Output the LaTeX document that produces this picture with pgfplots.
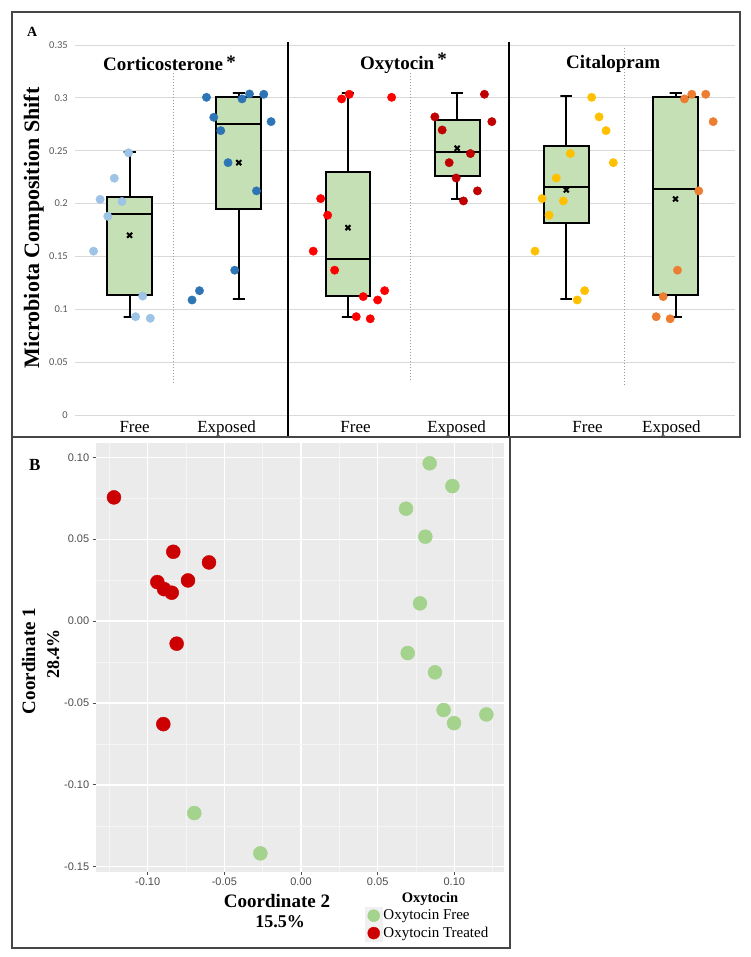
\documentclass[border=0pt]{standalone}
\usepackage{fontspec}
\setmainfont{Liberation Serif}
\newfontfamily\carlito{Carlito}
\newfontfamily\arialf{Liberation Sans}
\usepackage{pgfplots}
\pgfplotsset{compat=1.18}
\definecolor{boxgreen}{RGB}{197,224,180}
\definecolor{lblue}{RGB}{157,195,230}
\definecolor{dblue}{RGB}{46,117,182}
\definecolor{lred}{RGB}{255,0,0}
\definecolor{dred}{RGB}{192,0,0}
\definecolor{gold}{RGB}{255,192,0}
\definecolor{orng}{RGB}{237,125,49}
\definecolor{gridA}{RGB}{217,217,217}
\definecolor{tickA}{RGB}{89,89,89}
\definecolor{ggbg}{RGB}{235,235,235}
\definecolor{ggminor}{RGB}{245,245,245}
\definecolor{oxfree}{RGB}{163,211,140}
\definecolor{oxtreat}{RGB}{204,0,0}
\definecolor{legbg}{RGB}{240,240,240}
\definecolor{tickB}{RGB}{77,77,77}
\definecolor{framec}{RGB}{70,70,70}

\begin{document}
\begin{tikzpicture}
\path[use as bounding box, fill=white] (0pt,0pt) rectangle (751pt,-957pt);

% ---------------- Panel A ----------------
\begin{axis}[
  at={(75pt,-415pt)}, anchor=south west, scale only axis,
  width=660pt, height=370pt,
  xmin=0.5, xmax=6.545, ymin=0, ymax=0.35,
  axis line style={draw=none},
  major tick length=0pt,
  ytick={0,0.05,0.1,0.15,0.2,0.25,0.3,0.35},
  yticklabels={0,0.05,0.1,0.15,0.2,0.25,0.3,0.35},
  yticklabel style={font=\carlito\fontsize{10.5}{12}\selectfont, text=tickA, anchor=east, inner sep=0pt, xshift=-7pt},
  ymajorgrids, grid style={draw=gridA, line width=0.9pt},
  xtick={1.046,1.888,3.07,3.995,5.194,5.963},
  xticklabels={Free,Exposed,Free,Exposed,Free,Exposed},
  xticklabel style={font=\fontsize{17}{19}\selectfont, anchor=base, inner sep=0pt, yshift=-17pt},
  clip=false,
  boxst/.style={draw=black, fill=boxgreen, line width=2pt, line join=miter},
  whst/.style={draw=black, line width=2pt},
]
% boxes (lower quartile to upper quartile)
\addplot[boxst] coordinates {(0.795,0.1135) (1.205,0.1135) (1.205,0.206) (0.795,0.206)} -- cycle;
\addplot[boxst] coordinates {(1.795,0.1946) (2.205,0.1946) (2.205,0.3005) (1.795,0.3005)} -- cycle;
\addplot[boxst] coordinates {(2.795,0.1126) (3.205,0.1126) (3.205,0.2296) (2.795,0.2296)} -- cycle;
\addplot[boxst] coordinates {(3.795,0.2258) (4.205,0.2258) (4.205,0.2788) (3.795,0.2788)} -- cycle;
\addplot[boxst] coordinates {(4.795,0.1813) (5.205,0.1813) (5.205,0.2545) (4.795,0.2545)} -- cycle;
\addplot[boxst] coordinates {(5.795,0.1132) (6.205,0.1132) (6.205,0.3005) (5.795,0.3005)} -- cycle;
% medians
\addplot[whst] coordinates {(0.795,0.190) (1.205,0.190)};
\addplot[whst] coordinates {(1.795,0.275) (2.205,0.275)};
\addplot[whst] coordinates {(2.795,0.1476) (3.205,0.1476)};
\addplot[whst] coordinates {(3.795,0.2488) (4.205,0.2488)};
\addplot[whst] coordinates {(4.795,0.2157) (5.205,0.2157)};
\addplot[whst] coordinates {(5.795,0.2135) (6.205,0.2135)};
% whiskers
\addplot[whst] coordinates {(1,0.206) (1,0.2485) (0.945,0.2485) (1.055,0.2485)};
\addplot[whst] coordinates {(1,0.1135) (1,0.0924) (0.945,0.0924) (1.055,0.0924)};
\addplot[whst] coordinates {(2,0.3005) (2,0.305) (1.945,0.305) (2.055,0.305)};
\addplot[whst] coordinates {(2,0.1946) (2,0.110) (1.945,0.110) (2.055,0.110)};
\addplot[whst] coordinates {(3,0.2296) (3,0.305) (2.945,0.305) (3.055,0.305)};
\addplot[whst] coordinates {(3,0.1126) (3,0.0924) (2.945,0.0924) (3.055,0.0924)};
\addplot[whst] coordinates {(4,0.2788) (4,0.305) (3.945,0.305) (4.055,0.305)};
\addplot[whst] coordinates {(4,0.2258) (4,0.204) (3.945,0.204) (4.055,0.204)};
\addplot[whst] coordinates {(5,0.2545) (5,0.3018) (4.945,0.3018) (5.055,0.3018)};
\addplot[whst] coordinates {(5,0.1813) (5,0.1097) (4.945,0.1097) (5.055,0.1097)};
\addplot[whst] coordinates {(6,0.3005) (6,0.305) (5.945,0.305) (6.055,0.305)};
\addplot[whst] coordinates {(6,0.1132) (6,0.0924) (5.945,0.0924) (6.055,0.0924)};

\addplot[only marks, mark=*, mark size=4.2pt, color=lblue, mark options={draw=none}] coordinates {
 (0.99,0.248) (0.86,0.224) (0.73,0.204) (0.93,0.202) (0.80,0.188) (0.67,0.155) (1.12,0.1125) (1.055,0.093) (1.19,0.0915)};
\addplot[only marks, mark=*, mark size=4.2pt, color=dblue, mark options={draw=none}] coordinates {
 (1.704,0.3005) (1.771,0.2816) (1.835,0.269) (1.902,0.2387) (2.03,0.299) (2.098,0.3037) (2.229,0.3034) (2.296,0.2775) (2.162,0.212) (1.963,0.137) (1.64,0.1176) (1.572,0.1088)};
\addplot[only marks, mark=*, mark size=4.2pt, color=lred, mark options={draw=none}] coordinates {
 (2.942,0.299) (3.012,0.3034) (3.40,0.3005) (2.75,0.2047) (2.814,0.189) (2.682,0.155) (2.878,0.137) (3.14,0.112) (3.272,0.1088) (3.336,0.1176) (3.076,0.093) (3.204,0.091)};
\addplot[only marks, mark=*, mark size=4.2pt, color=dred, mark options={draw=none}] coordinates {
 (3.796,0.282) (3.863,0.2696) (3.927,0.2387) (3.991,0.2242) (4.058,0.2025) (4.122,0.2473) (4.186,0.212) (4.25,0.3034) (4.318,0.2775)};
\addplot[only marks, mark=*, mark size=4.2pt, color=gold, mark options={draw=none}] coordinates {
 (5.232,0.3005) (5.30,0.282) (5.364,0.269) (5.43,0.2387) (5.037,0.2473) (4.908,0.2242) (4.778,0.2047) (4.973,0.2025) (4.842,0.189) (4.713,0.155) (5.168,0.1176) (5.10,0.1088)};
\addplot[only marks, mark=*, mark size=4.2pt, color=orng, mark options={draw=none}] coordinates {
 (6.082,0.299) (6.149,0.3034) (6.277,0.3034) (6.345,0.2775) (6.213,0.212) (6.018,0.137) (5.887,0.112) (5.823,0.093) (5.951,0.091)};
\addplot[only marks, mark=x, mark size=3.5pt, black, line width=2pt] coordinates {
 (1,0.170) (2,0.2387) (3,0.1772) (4,0.2523) (5,0.2129) (6,0.2043)};
\end{axis}

% separators and frame of panel A
\draw[gray!80, dotted, line width=1pt] (173pt,-73pt) -- (173pt,-385pt);
\draw[gray!80, dotted, line width=1pt] (410pt,-73pt) -- (410pt,-380pt);
\draw[gray!80, dotted, line width=1pt] (624pt,-48pt) -- (624pt,-385pt);
\draw[black, line width=2.2pt] (288pt,-42pt) -- (288pt,-437pt);
\draw[black, line width=2.2pt] (509pt,-42pt) -- (509pt,-437pt);
\draw[framec, line width=1.5pt] (12pt,-12pt) rectangle (740pt,-437pt);

\node[anchor=base west, inner sep=0pt, font=\bfseries\fontsize{14}{16}\selectfont] at (27pt,-37pt) {A};
\node[anchor=base west, inner sep=0pt, font=\bfseries\fontsize{19}{21}\selectfont] at (103pt,-71pt) {Corticosterone\,\raisebox{2pt}{*}};
\node[anchor=base west, inner sep=0pt, font=\bfseries\fontsize{19}{21}\selectfont] at (360pt,-70pt) {Oxytocin\,\raisebox{4pt}{*}};
\node[anchor=base west, inner sep=0pt, font=\bfseries\fontsize{19}{21}\selectfont] at (566pt,-69pt) {Citalopram};
\node[rotate=90, anchor=base, inner sep=0pt, font=\bfseries\fontsize{22}{24}\selectfont] at (39pt,-228pt) {Microbiota Composition Shift};

% ---------------- Panel B ----------------
\begin{axis}[
  at={(95.7pt,-871.7pt)}, anchor=south west, scale only axis,
  width=408.3pt, height=428.7pt,
  xmin=-0.1339, xmax=0.1324, ymin=-0.153, ymax=0.1087,
  axis background/.style={fill=ggbg},
  axis line style={draw=none},
  xtick={-0.1,-0.05,0,0.05,0.1},
  xticklabels={-0.10,-0.05,0.00,0.05,0.10},
  ytick={-0.15,-0.1,-0.05,0,0.05,0.1},
  yticklabels={-0.15,-0.10,-0.05,0.00,0.05,0.10},
  minor xtick={-0.125,-0.075,-0.025,0.025,0.075,0.125},
  minor ytick={-0.125,-0.075,-0.025,0.025,0.075},
  grid=both,
  major grid style={white, line width=1.3pt},
  minor grid style={ggminor, line width=0.6pt},
  tick align=outside, tick pos=left,
  major tick length=3pt, minor tick length=0pt,
  tick style={tickB, line width=0.8pt},
  ticklabel style={font=\arialf\fontsize{11}{13}\selectfont, text=tickB},
  legend style={at={(0.6596,-0.0823)}, anchor=north west, draw=none, fill=none, inner sep=0pt, outer sep=0pt, font=\fontsize{15}{17}\selectfont, row sep=0pt, nodes={inner sep=1pt}, cells={anchor=west}},
  clip=false,
]
\addplot[only marks, mark=*, mark size=7pt, color=oxfree, mark options={draw=none},
  legend image code/.code={\fill[legbg] (0pt,-8.5pt) rectangle (17pt,8.5pt); \fill[oxfree] (8.5pt,0pt) circle (6pt);}] coordinates {
 (0.0839,0.0963) (0.0987,0.0824) (0.0685,0.0686) (0.0811,0.0515) (0.0776,0.0108) (0.0696,-0.0195) (0.0874,-0.0313) (0.0930,-0.0543) (0.0998,-0.0623) (0.1209,-0.0570) (-0.0696,-0.1172) (-0.0265,-0.1418)};
\addlegendentry{Oxytocin Free}
\addplot[only marks, mark=*, mark size=7pt, color=oxtreat, mark options={draw=none},
  legend image code/.code={\fill[legbg] (0pt,-8.5pt) rectangle (17pt,8.5pt); \fill[oxtreat] (8.5pt,0pt) circle (6pt);}] coordinates {
 (-0.122,0.0755) (-0.0833,0.0423) (-0.060,0.0358) (-0.0937,0.0238) (-0.0737,0.0248) (-0.0893,0.0195) (-0.0843,0.0173) (-0.0811,-0.0138) (-0.0898,-0.0629)};
\addlegendentry{Oxytocin Treated}
\end{axis}

\draw[framec, line width=1.5pt] (12pt,-437pt) rectangle (510pt,-948pt);
\node[anchor=base west, inner sep=0pt, font=\bfseries\fontsize{17}{19}\selectfont] at (29pt,-470pt) {B};
\node[anchor=base, inner sep=0pt, font=\bfseries\fontsize{19}{21}\selectfont] at (277pt,-907pt) {Coordinate 2};
\node[anchor=base, inner sep=0pt, font=\bfseries\fontsize{18}{20}\selectfont] at (280pt,-927pt) {15.5\%};
\node[rotate=90, anchor=base, inner sep=0pt, font=\bfseries\fontsize{19}{21}\selectfont] at (35pt,-661pt) {Coordinate 1};
\node[rotate=90, anchor=base, inner sep=0pt, font=\bfseries\fontsize{18}{20}\selectfont] at (59pt,-654pt) {28.4\%};
\node[anchor=base, inner sep=0pt, font=\bfseries\fontsize{14.5}{16}\selectfont] at (430pt,-902pt) {Oxytocin};
\end{tikzpicture}
\end{document}
